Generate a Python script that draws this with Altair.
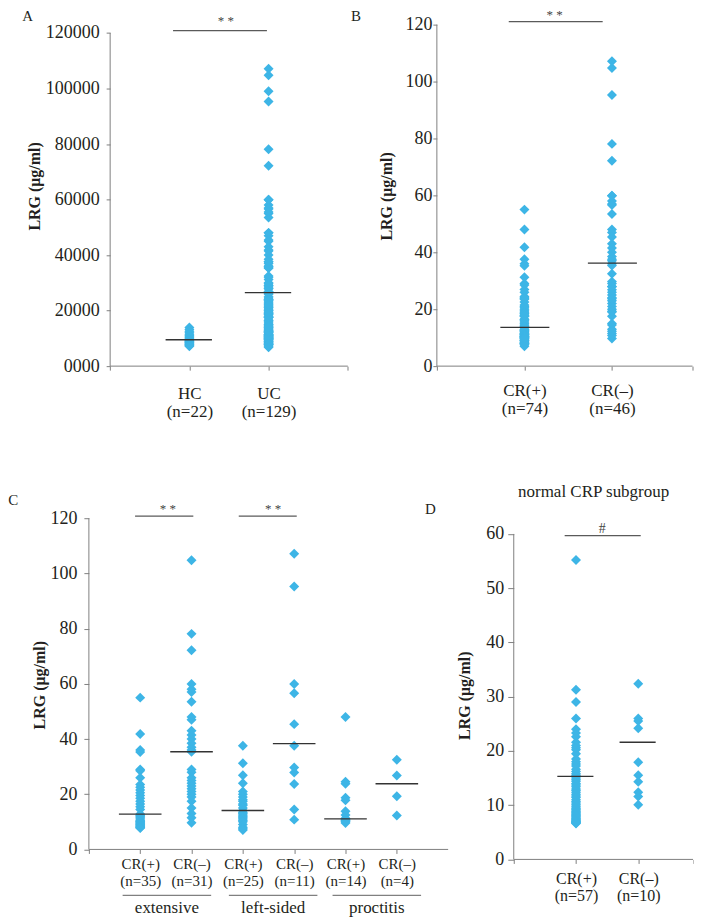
import json
import altair as alt
import pandas as pd

FONT = "Liberation Serif"
BLUE = "#3DB5E6"
GREY = "#808080"
DARK = "#231F20"
LINE = "#5A5A5A"

# ---------------- data ----------------
# Panel C (ug/ml): extensive / left-sided / proctitis, CR(+) and CR(-)
C_status = ["CR(+)", "CR(–)", "CR(+)", "CR(–)", "CR(+)", "CR(–)"]
C_n = [35, 31, 25, 11, 14, 4]
C_groups = ["extensive", "left-sided", "proctitis"]
ext_pos = [55, 41.8, 36, 35.3, 29, 28.5, 26, 23.5, 22.5, 21.5, 20.5, 19.5, 18.5, 17.5,
           16.5, 15.5, 14.5, 12.8, 12.3, 12, 11.5, 11, 10.5, 10.2, 10, 9.8, 9.5, 9.2,
           9, 8.8, 8.5, 8.3, 8, 7.9, 7.8]
ext_neg = [104.8, 78.1, 72.2, 59.9, 58, 57, 53.5, 48, 47, 43, 41.5, 40, 38.5, 37, 36,
           35.4, 29, 28, 26, 25, 24, 23, 22, 21, 20, 19, 17.5, 15, 13, 11.5, 9.7]
left_pos = [37.6, 31.2, 26.9, 24, 21, 20, 19, 18, 17.5, 16.5, 16, 15, 14.1, 13.5, 13,
            12.5, 12, 11.5, 11, 10.5, 10, 9, 8, 7.5, 7]
left_neg = [107.1, 95.3, 59.9, 56.6, 45.4, 37.6, 29.7, 27.9, 23.7, 14.5, 10.8]
proc_pos = [48, 24.5, 23.8, 18.7, 17.8, 13.8, 12.5, 11.3, 11, 10.8, 10.5, 10.3, 10, 9.6]
proc_neg = [32.5, 26.8, 19.3, 12.3]
C_median = [12.8, 35.4, 14.1, 38.3, 11.1, 23.8]

# Panel B (ug/ml)
B_status = ["CR(+)", "CR(–)"]
B_n = [74, 46]
B_pos = ext_pos + left_pos + proc_pos
B_neg = ext_neg + left_neg + proc_neg
B_median = [13.6, 36.2]

# Panel A (ng/ml)
A_groups = ["HC", "UC"]
A_n = [22, 129]
A_hc = [13900, 13200, 12600, 12000, 11500, 11000, 10600, 10200, 9900, 9600, 9400,
        9200, 9000, 8800, 8600, 8400, 8200, 8000, 7800, 7600, 7400, 7200]
A_uc_extra = [99000, 55500, 45000, 32000, 30000, 22000, 14000, 8000, 6800]
A_uc = [v * 1000 for v in B_pos + B_neg] + A_uc_extra
A_median = [9500, 26500]

# Panel D (ug/ml), normal CRP subgroup
D_status = ["CR(+)", "CR(–)"]
D_n = [57, 10]
D_pos = [55.2, 31.3, 29, 26, 24, 23.3, 22.6, 21.6, 21, 20.2, 19.5, 18.5, 18, 17.6,
         16.6, 16.2, 15.8, 15.5, 15.3, 15, 14.7, 14.4, 14, 13.7, 13.4, 13, 12.7, 12.4,
         12, 11.7, 11.4, 11, 10.7, 10.4, 10.1, 9.8, 9.5, 9.3, 9.1, 8.9, 8.7, 8.5, 8.3,
         8.1, 7.9, 7.7, 7.5, 7.4, 7.2, 7.1, 7, 6.9, 6.8, 6.7, 6.6, 20.6, 17.2]
D_neg = [32.4, 26, 25.5, 24.2, 17.9, 15.5, 14.3, 12.4, 11.6, 10.1]
D_median = [15.3, 21.6]

YTITLE = "LRG (μg/ml)"


def long_df(groups):
    rows = []
    for i, vals in enumerate(groups):
        for v in vals:
            rows.append({"pos": i + 1, "value": v})
    return pd.DataFrame(rows)


def label_expr(line1, line2):
    parts = []
    for i, (a, b) in enumerate(zip(line1, line2)):
        parts.append(f"datum.value == {i + 1} ? {json.dumps([a, b], ensure_ascii=False)} : ")
    return "".join(parts) + "''"


ONE = pd.DataFrame({"k": [0]})


def panel(groups, medians, line1, line2, *, w, h, xdom, xend, ymax, ytop, ystep,
          yoffset=0, ytick=4, ylabpad=5, zero_label=False, xlab_size=17, xlab_pad=10,
          xlab_lh=17, med_half=(0.29, 0.29), title_pos=(-50, 170), letter="A",
          letter_pos=(0, 0), sigs=(), extra=()):
    ncat = len(groups)
    xticks = list(range(0, ncat + 1)) + ([xend] if xend > ncat else [])
    xs = alt.Scale(domain=list(xdom), nice=False, zero=False)
    ys = alt.Scale(domain=[0, ymax], nice=False)
    xaxis = alt.Axis(values=xticks, labelExpr=label_expr(line1, line2),
                     title=None, domain=False, grid=False, ticks=True, tickSize=4,
                     tickColor=GREY, tickWidth=1, labelFont=FONT, labelFontSize=xlab_size,
                     labelColor=DARK, labelPadding=xlab_pad, labelLineHeight=xlab_lh,
                     labelOverlap=False, labelFlush=False, labelBaseline="top",
                     labelAlign="center", labelBound=False)
    yaxis = alt.Axis(values=list(range(0, ytop + 1, ystep)), format="d",
                     labelExpr="datum.value == 0 ? '0000' : datum.label" if zero_label else "datum.label",
                     title=None, domain=False, grid=False, tickSize=ytick, tickColor=GREY,
                     tickWidth=1, labelFont=FONT, labelFontSize=18, labelColor=DARK,
                     labelPadding=ylabpad, offset=yoffset, labelOverlap=False,
                     labelFlush=False, labelBound=False)
    pts = alt.Chart(long_df(groups)).mark_point(
        shape="diamond", filled=True, size=100, opacity=1, color=BLUE, strokeWidth=0
    ).encode(x=alt.X("pos:Q", scale=xs, axis=xaxis), y=alt.Y("value:Q", scale=ys, axis=yaxis))

    med_df = pd.DataFrame({"pos": list(range(1, len(medians) + 1)), "median": medians})
    meds = alt.Chart(med_df).transform_calculate(
        x0=f"datum.pos - {med_half[0]}", x1=f"datum.pos + {med_half[1]}"
    ).mark_rule(color="#333333", strokeWidth=1.3).encode(
        x=alt.X("x0:Q", title=None), x2="x1:Q", y=alt.Y("median:Q", title=None))

    xline = alt.Chart(ONE).mark_rule(color=GREY, strokeWidth=1).encode(
        x=alt.datum(0), x2=alt.datum(xend), y=alt.datum(0))
    yline = alt.Chart(ONE).mark_rule(color=GREY, strokeWidth=1).encode(
        x=alt.datum(0), y=alt.datum(0), y2=alt.datum(ytop))

    layers = [pts, meds, xline, yline]
    for s in sigs:
        layers.append(alt.Chart(ONE).mark_rule(color=LINE, strokeWidth=1.2).encode(
            x=alt.datum(s["x0"]), x2=alt.datum(s["x1"]), y=alt.value(s["y"])))
        layers.append(alt.Chart(ONE).mark_text(
            text=s["text"], font=FONT, fontSize=s["size"], color="#444444", align="center",
            baseline="alphabetic").encode(x=alt.datum(s["tx"]), y=alt.value(s["ty"])))
    layers.append(alt.Chart(ONE).mark_text(
        text=YTITLE, font=FONT, fontSize=16, fontWeight="bold", color=DARK, angle=270,
        align="center", baseline="middle").encode(
        x=alt.value(title_pos[0]), y=alt.value(title_pos[1])))
    layers.append(alt.Chart(ONE).mark_text(
        text=letter, font=FONT, fontSize=15, color=DARK, align="left",
        baseline="alphabetic").encode(x=alt.value(letter_pos[0]), y=alt.value(letter_pos[1])))
    layers.extend(extra)
    return alt.layer(*layers).properties(width=w, height=h)


# ---------- Panel A ----------
chartA = panel(
    [A_hc, A_uc], A_median, A_groups, [f"(n={n})" for n in A_n],
    w=259.3, h=342, xdom=(-0.2685, 3), xend=3, ymax=123000, ytop=120000,
    ystep=20000, yoffset=-21.3, ytick=4, ylabpad=7, zero_label=True, xlab_size=17,
    xlab_pad=15, xlab_lh=18, med_half=(0.30, 0.285), title_pos=(21.3 - 75.5, 162),
    letter="A", letter_pos=(-66.7, -4),
    sigs=[dict(x0=0.794, x1=1.979, y=6, text="* *", size=13, tx=1.46, ty=0.7)])

# ---------- Panel B ----------
chartB = panel(
    [B_pos, B_neg], B_median, B_status, [f"(n={n})" for n in B_n],
    w=256, h=342, xdom=(0, 2.92), xend=2.92, ymax=120, ytop=120, ystep=20, ytick=4,
    ylabpad=1, xlab_size=17, xlab_pad=12, xlab_lh=18, med_half=(0.275, 0.285),
    title_pos=(-49.5, 172), letter="B", letter_pos=(-86, -4),
    sigs=[dict(x0=0.821, x1=1.894, y=-3, text="* *", size=13, tx=1.346, ty=-5.6)])

# ---------- Panel C ----------
group_center = [1.52, 3.59, 5.61]
grp_df = pd.DataFrame({"group": C_groups, "c": group_center})
grp_lines = alt.Chart(grp_df).transform_calculate(
    g0="datum.c - 0.8625", g1="datum.c + 0.8625"
).mark_rule(color=GREY, strokeWidth=1.2).encode(
    x=alt.X("g0:Q", title=None), x2="g1:Q", y=alt.value(377.7))
grp_text = alt.Chart(grp_df).mark_text(
    font=FONT, fontSize=17, color=DARK, align="center", baseline="alphabetic"
).encode(x=alt.X("c:Q", title=None), y=alt.value(395.7), text="group:N")

chartC = panel(
    [ext_pos, ext_neg, left_pos, left_neg, proc_pos, proc_neg], C_median, C_status,
    [f"(n={n})" for n in C_n],
    w=339.8, h=331.7, xdom=(0, 6.611), xend=7, ymax=120, ytop=120, ystep=20, ytick=5,
    ylabpad=7, xlab_size=15, xlab_pad=3, xlab_lh=17, med_half=(0.415, 0.415),
    title_pos=(-48.7, 167.2), letter="C", letter_pos=(-80.7, -13.3),
    sigs=[dict(x0=0.90, x1=2.035, y=-2, text="* *", size=13, tx=1.54, ty=-5.4),
          dict(x0=2.92, x1=4.05, y=-2, text="* *", size=13, tx=3.59, ty=-5.4)],
    extra=[grp_lines, grp_text])

# ---------- Panel D ----------
d_title = alt.Chart(ONE).mark_text(
    text="normal CRP subgroup", font=FONT, fontSize=17, color=DARK, align="center",
    baseline="alphabetic").encode(x=alt.datum(1.283), y=alt.value(-21.3))
chartD = panel(
    [D_pos, D_neg], D_median, D_status, [f"(n={n})" for n in D_n],
    w=256.5, h=341.7, xdom=(-1.2353, 2.88), xend=2.88, ymax=62.9, ytop=60, ystep=10,
    yoffset=-77, ytick=6, ylabpad=4, xlab_size=16, xlab_pad=7, xlab_lh=17,
    med_half=(0.30, 0.28), title_pos=(465 - 437, 177.7), letter="D",
    letter_pos=(425 - 437, -4.3),
    sigs=[dict(x0=0.818, x1=2.04, y=17.4, text="#", size=14, tx=1.42, ty=14.7)],
    extra=[d_title])

chart = alt.concat(
    chartA, chartB, chartC, chartD, columns=2,
    spacing={"row": 152.3, "column": 8.5}, bounds="flush", align="each"
).properties(
    padding={"left": 0, "top": 0, "right": 0, "bottom": 0}, background="white"
).configure_view(stroke=None)

chart.save("out.html", embed_options={"renderer": "svg", "actions": False})
